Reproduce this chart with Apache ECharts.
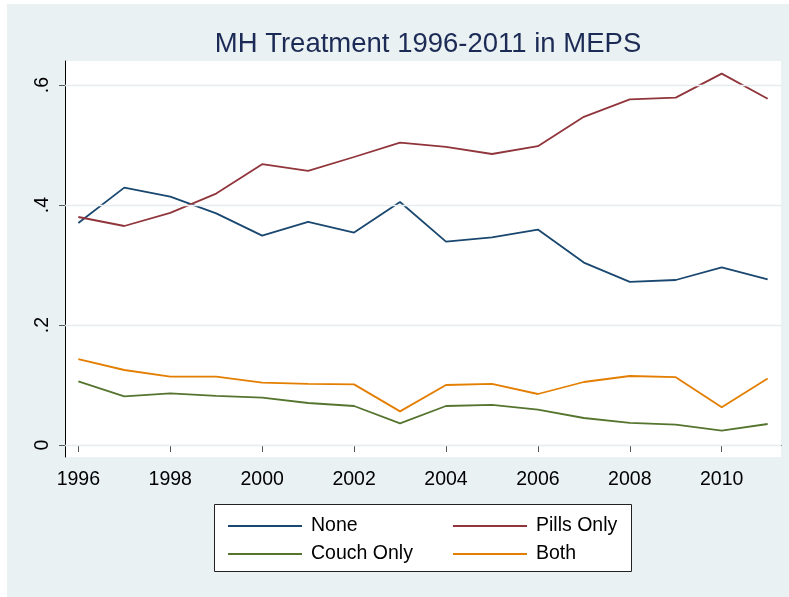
<!DOCTYPE html>
<html><head><meta charset="utf-8">
<script src="https://cdn.jsdelivr.net/npm/echarts@6/dist/echarts.min.js"></script>
<style>
html,body{margin:0;padding:0;background:#fff;}
#wrap{position:relative;width:789px;height:597px;background:#fff;overflow:hidden;}
#chart{position:absolute;left:7px;top:4px;width:782px;height:593px;}
</style></head>
<body><div id="wrap"><div id="chart"></div></div>
<script>
var years = [1996,1997,1998,1999,2000,2001,2002,2003,2004,2005,2006,2007,2008,2009,2010,2011];
var noneVals   = [0.370,0.429,0.414,0.386,0.349,0.372,0.354,0.405,0.339,0.346,0.359,0.304,0.272,0.275,0.296,0.276];
var pillsVals  = [0.380,0.365,0.387,0.419,0.468,0.457,0.480,0.504,0.497,0.485,0.498,0.547,0.576,0.579,0.619,0.577];
var couchVals  = [0.106,0.081,0.086,0.082,0.079,0.070,0.065,0.036,0.065,0.067,0.059,0.045,0.037,0.034,0.024,0.035];
var bothVals   = [0.143,0.125,0.114,0.114,0.104,0.102,0.101,0.056,0.100,0.102,0.085,0.105,0.115,0.113,0.063,0.111];
var xTicks = [1996,1998,2000,2002,2004,2006,2008,2010];
var yTicks = [0,0.2,0.4,0.6];
var yTickLabels = ['0','.2','.4','.6'];
var seriesNames = ['None','Pills Only','Couch Only','Both'];
var seriesColors = ['#1A476F','#90353B','#55752F','#E37E00'];

function pairs(vals){ return years.map(function(y,i){ return [y, vals[i]]; }); }
var allVals = [noneVals, pillsVals, couchVals, bothVals];

var chart = echarts.init(document.getElementById('chart'), null, {renderer:'canvas'});
var font = '"Liberation Sans", Arial, Helvetica, sans-serif';

var series = [{
  name:'_grid', type:'line', data:[], z:1, silent:true,
  markLine:{ silent:true, symbol:['none','none'], label:{show:false},
    lineStyle:{color:'#e5edf0', width:1.3, type:'solid'},
    data: yTicks.map(function(v){ return {yAxis:v}; }) }
}];
seriesNames.forEach(function(n,i){
  series.push({
    name:n, type:'line', data:pairs(allVals[i]), symbol:'none', z:3,
    lineStyle:{color:seriesColors[i], width:1.8}, itemStyle:{color:seriesColors[i]}
  });
});

var legendCommon = {
  orient:'vertical', icon:'rect', itemWidth:74, itemHeight:2, itemGap:8,
  textStyle:{fontFamily:font, fontSize:19.5, color:'#000', lineHeight:20, padding:[0,0,0,4]},
  selectedMode:false
};

chart.setOption({
  backgroundColor:'#eaf1f3',
  animation:false,
  title:{ text:'MH Treatment 1996-2011 in MEPS', left:416, top:21, textAlign:'center',
    textStyle:{fontFamily:font, fontSize:27.5, fontWeight:'normal', color:'#1c2b55'} },
  grid:{ left:58, top:57, right:8, bottom:140, show:true, backgroundColor:'#ffffff', borderWidth:0 },
  xAxis:{ type:'value', min:1995.71, max:2011.29,
    axisLine:{show:true, lineStyle:{color:'#000', width:1}},
    axisTick:{show:true, length:7, customValues:xTicks, lineStyle:{color:'#555'}},
    axisLabel:{customValues:xTicks, fontFamily:font, fontSize:19.5, color:'#000', margin:13,
      formatter:function(v){ return String(v); }},
    splitLine:{show:false} },
  yAxis:{ type:'value', min:-0.02, max:0.64,
    axisLine:{show:true, lineStyle:{color:'#000', width:1}},
    axisTick:{show:true, length:6, customValues:yTicks, lineStyle:{color:'#555'}},
    axisLabel:{customValues:yTicks, rotate:90, fontFamily:font, fontSize:19.5, color:'#000', margin:12,
      formatter:function(v){ var i = yTicks.indexOf(Math.round(v*10)/10); return i>=0 ? yTickLabels[i] : ''; }},
    splitLine:{show:false} },
  legend:[
    Object.assign({}, legendCommon, {data:[seriesNames[0], seriesNames[2]], left:216, top:507}),
    Object.assign({}, legendCommon, {data:[seriesNames[1], seriesNames[3]], left:441, top:507})
  ],
  graphic:[{ type:'rect', shape:{x:207.5, y:500.5, width:417, height:67}, z:-1,
    style:{fill:'#fff', stroke:'#222', lineWidth:1} }],
  series:series
});
</script></body></html>
